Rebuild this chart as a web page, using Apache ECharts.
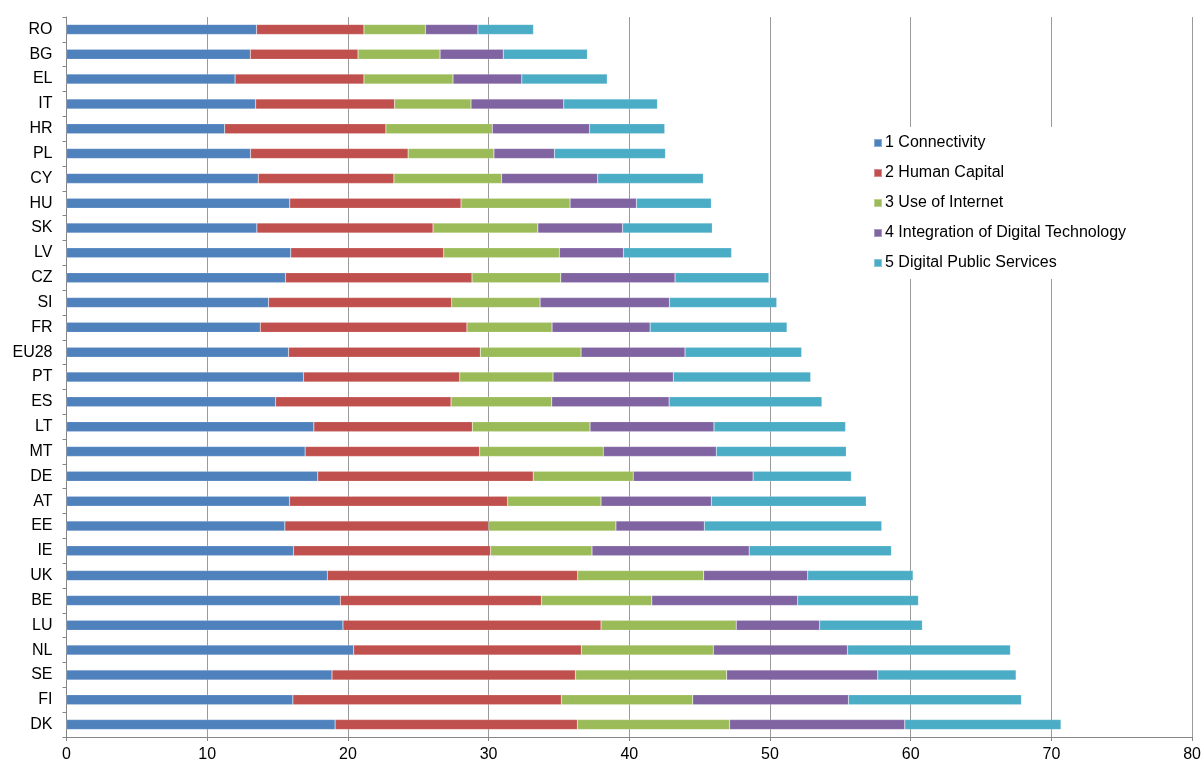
<!DOCTYPE html>
<html>
<head>
<meta charset="utf-8">
<script src="https://cdn.jsdelivr.net/npm/echarts@6/dist/echarts.min.js"></script>
<style>
html,body{margin:0;padding:0;background:#fff;}
#chart{width:1204px;height:763px;}
</style>
</head>
<body>
<div id="chart"></div>
<script>
const categories = ["RO","BG","EL","IT","HR","PL","CY","HU","SK","LV","CZ","SI","FR","EU28","PT","ES","LT","MT","DE","AT","EE","IE","UK","BE","LU","NL","SE","FI","DK"];
const seriesNames = ["1 Connectivity","2 Human Capital","3 Use of Internet","4 Integration of Digital Technology","5 Digital Public Services"];
const connectivity = [13.51,13.06,11.98,13.44,11.24,13.08,13.63,15.87,13.53,15.94,15.56,14.36,13.77,15.78,16.84,14.86,17.58,16.96,17.86,15.85,15.52,16.13,18.54,19.46,19.65,20.41,18.87,16.09,19.09];
const humanCapital = [7.63,7.66,9.16,9.88,11.46,11.20,9.64,12.17,12.52,10.87,13.26,13.02,14.69,13.63,11.11,12.47,11.26,12.40,15.31,15.50,14.48,14.01,17.79,14.30,18.34,16.18,17.30,19.08,17.22];
const useOfInternet = [4.37,5.83,6.33,5.43,7.56,6.10,7.65,7.75,7.45,8.22,6.31,6.28,6.05,7.16,6.63,7.16,8.37,8.79,7.11,6.64,9.05,7.21,8.96,7.84,9.61,9.38,10.75,9.34,10.82];
const integration = [3.73,4.49,4.89,6.59,6.92,4.30,6.83,4.72,6.02,4.56,8.12,9.19,6.97,7.39,8.55,8.34,8.81,8.03,8.52,7.84,6.28,11.17,7.39,10.37,5.93,9.54,10.74,11.07,12.45];
const publicServices = [3.95,5.98,6.07,6.66,5.34,7.89,7.51,5.32,6.38,7.68,6.67,7.63,9.73,8.29,9.76,10.86,9.35,9.24,6.98,11.01,12.61,10.11,7.49,8.58,7.30,11.58,9.83,12.29,11.10];
const xTicks = {min: 0, max: 80, interval: 10};

const colors = ["#4F81BD","#C0504D","#9BBB59","#8064A2","#4BACC6"];
const values = [connectivity, humanCapital, useOfInternet, integration, publicServices];

const chart = echarts.init(document.getElementById('chart'), null, {renderer: 'canvas'});
const font = "'Liberation Sans', Arial, sans-serif";
chart.setOption({
  animation: false,
  textStyle: {fontFamily: font},
  grid: {left: 66.5, right: 8.5, top: 17, bottom: 26, containLabel: false},
  legend: {
    orient: 'vertical',
    left: 863, top: 127,
    padding: [8, 20, 8, 10],
    backgroundColor: '#ffffff',
    itemWidth: 8, itemHeight: 8,
    itemGap: 14,
    icon: 'rect',
    data: seriesNames,
    textStyle: {fontFamily: font, fontSize: 16, color: '#000', lineHeight: 16, padding: [0, 0, 0, -2]}
  },
  xAxis: {
    type: 'value',
    min: xTicks.min, max: xTicks.max, interval: xTicks.interval,
    axisLine: {show: true, lineStyle: {color: '#868686', width: 1}},
    axisTick: {show: true, length: 4, lineStyle: {color: '#868686'}},
    axisLabel: {fontFamily: font, fontSize: 16, color: '#000', margin: 10},
    splitLine: {show: true, lineStyle: {color: '#9a9a9a', width: 1}}
  },
  yAxis: {
    type: 'category',
    data: categories,
    inverse: true,
    axisLine: {show: true, lineStyle: {color: '#868686', width: 1}},
    axisTick: {show: true, length: 4, alignWithLabel: false, lineStyle: {color: '#868686'}},
    axisLabel: {fontFamily: font, fontSize: 16, color: '#000', margin: 14}
  },
  series: seriesNames.map((name, i) => ({
    name: name,
    type: 'bar',
    stack: 'total',
    barWidth: 10,
    data: values[i],
    itemStyle: {color: colors[i], borderColor: 'rgba(255,255,255,0.35)', borderWidth: 0.5}
  }))
});
</script>
</body>
</html>
